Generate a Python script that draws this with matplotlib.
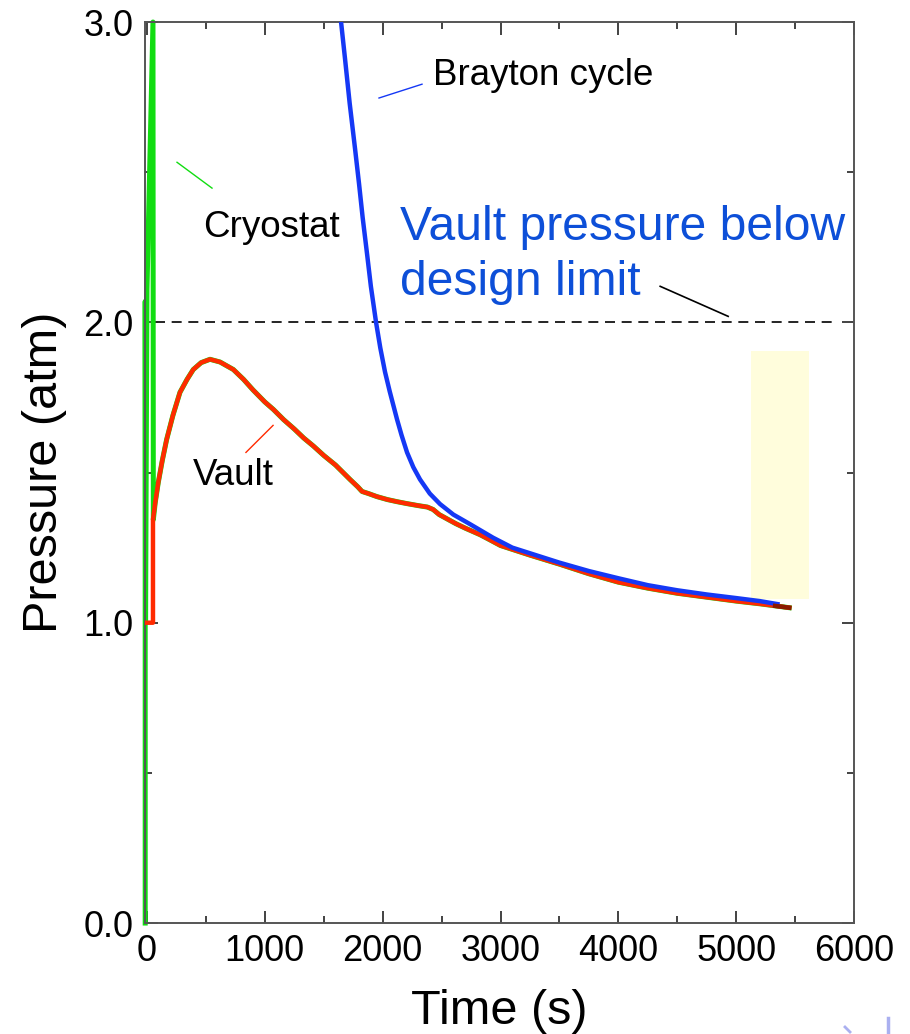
import matplotlib
matplotlib.use("Agg")
import matplotlib.pyplot as plt
from matplotlib.lines import Line2D
from matplotlib.patches import Rectangle
from matplotlib.ticker import MultipleLocator, FormatStrFormatter

plt.rcParams['font.family'] = ['Liberation Sans', 'DejaVu Sans']

# pressure traces (time in s, pressure in atm)
vault_t = [-17, 51, 51, 70, 96, 130, 167, 220, 280, 340, 393, 460, 535, 620, 733, 820,
           900, 1000, 1073, 1160, 1250, 1330, 1413, 1500, 1600, 1723, 1790, 1825, 1880,
           1950, 2040, 2122, 2200, 2300, 2380, 2428, 2480, 2550, 2620, 2700, 2827, 2900,
           3000, 3250, 3500, 3750, 4000, 4250, 4500, 4750, 5000, 5200, 5450]
vault_p = [1.0, 1.0, 1.343, 1.40, 1.467, 1.54, 1.61, 1.69, 1.767, 1.81, 1.843, 1.866,
           1.877, 1.868, 1.843, 1.81, 1.775, 1.735, 1.71, 1.676, 1.645, 1.615, 1.588,
           1.557, 1.525, 1.477, 1.452, 1.437, 1.43, 1.42, 1.41, 1.403, 1.397, 1.39,
           1.385, 1.377, 1.36, 1.345, 1.33, 1.315, 1.293, 1.278, 1.257, 1.225, 1.195,
           1.163, 1.135, 1.115, 1.098, 1.085, 1.072, 1.063, 1.05]

cryo_t = [-15, -15, -12, 0, 51, 54]
cryo_p = [0.0, 2.07, 1.0, 2.11, 3.0, 1.343]

brayton_t = [1647, 1680, 1720, 1766, 1800, 1830, 1870, 1900, 1944, 1980, 2020, 2060,
             2122, 2160, 2207, 2260, 2317, 2400, 2487, 2600, 2742, 2937, 3100, 3300,
             3500, 3750, 4000, 4250, 4500, 4750, 5000, 5200, 5350]
brayton_p = [3.0, 2.88, 2.73, 2.577, 2.46, 2.35, 2.22, 2.12, 2.0, 1.915, 1.835, 1.77,
             1.677, 1.625, 1.567, 1.518, 1.477, 1.43, 1.395, 1.36, 1.328, 1.283, 1.25,
             1.225, 1.20, 1.172, 1.148, 1.125, 1.108, 1.094, 1.082, 1.072, 1.062]

design_limit = 2.0

fig = plt.figure(figsize=(9.1, 10.34), dpi=100)
ax = fig.add_axes([0.1593, 0.1073, 0.7792, 0.8714])

# highlight box near the end of the run
ax.add_patch(Rectangle((5127, 1.08), 493, 0.823, facecolor='#FFFDDC',
                       edgecolor='none', zorder=0))

ax.plot([70, 5840], [design_limit, design_limit], color='black', lw=1.2,
        dashes=(6, 4), zorder=1)

# cryostat follows the vault once the relief opens
ax.plot(cryo_t + vault_t[3:], cryo_p + vault_p[3:], color='#11DD11', lw=3.6,
        clip_on=False, zorder=2, solid_joinstyle='round')
ax.plot(vault_t, vault_p, color='#FF2A00', lw=3.2, zorder=3, solid_joinstyle='round')
ax.plot(brayton_t, brayton_p, color='#1538F5', lw=3.2, zorder=4, solid_joinstyle='round')
ax.plot([5330, 5450], [1.056, 1.050], color='#8B1A00', lw=3.2, zorder=5)

ax.set_xlim(-17, 6000)
ax.set_ylim(0, 3.0)
ax.xaxis.set_major_locator(MultipleLocator(1000))
ax.xaxis.set_minor_locator(MultipleLocator(500))
ax.yaxis.set_major_locator(MultipleLocator(1.0))
ax.yaxis.set_minor_locator(MultipleLocator(0.5))
ax.yaxis.set_major_formatter(FormatStrFormatter('%.1f'))
ax.tick_params(which='both', direction='in', top=True, right=True,
               labelsize=26, color='#222222', width=1.2)
ax.tick_params(which='major', length=9, pad=8)
ax.tick_params(which='minor', length=5)
for s in ax.spines.values():
    s.set_color('#555555')
    s.set_linewidth(1.4)

ax.set_xlabel('Time (s)', fontsize=35, labelpad=14)
ax.set_ylabel('Pressure (atm)', fontsize=35, labelpad=12)

# curve labels with leader lines
ax.text(2428, 2.823, 'Brayton cycle', fontsize=26.5, va='center', ha='left')
ax.plot([1969, 2334], [2.747, 2.793], color='#1538F5', lw=1)
ax.text(475, 2.317, 'Cryostat', fontsize=26.5, va='center', ha='left')
ax.plot([255, 552], [2.533, 2.447], color='#11DD11', lw=1)
ax.text(390, 1.49, 'Vault', fontsize=26.5, va='center', ha='left')
ax.plot([840, 1070], [1.567, 1.657], color='#FF2A00', lw=1)
ax.text(2148, 2.317, 'Vault pressure below', fontsize=34.6,
        color='#0D4FD8', va='center', ha='left')
ax.text(2148, 2.133, 'design limit', fontsize=34.6,
        color='#0D4FD8', va='center', ha='left')
ax.plot([4355, 4932], [2.12, 2.02], color='black', lw=1.2)

# faint marks in the lower right corner
fig.add_artist(Line2D([845 / 910, 850 / 910], [1 - 1027 / 1034, 1 - 1032 / 1034],
                      color='#AAB0F0', lw=2, transform=fig.transFigure))
fig.add_artist(Line2D([888 / 910, 888 / 910], [1 - 1018 / 1034, 0],
                      color='#AAB0F0', lw=2.5, transform=fig.transFigure))

fig.savefig('out.png', dpi=100)
